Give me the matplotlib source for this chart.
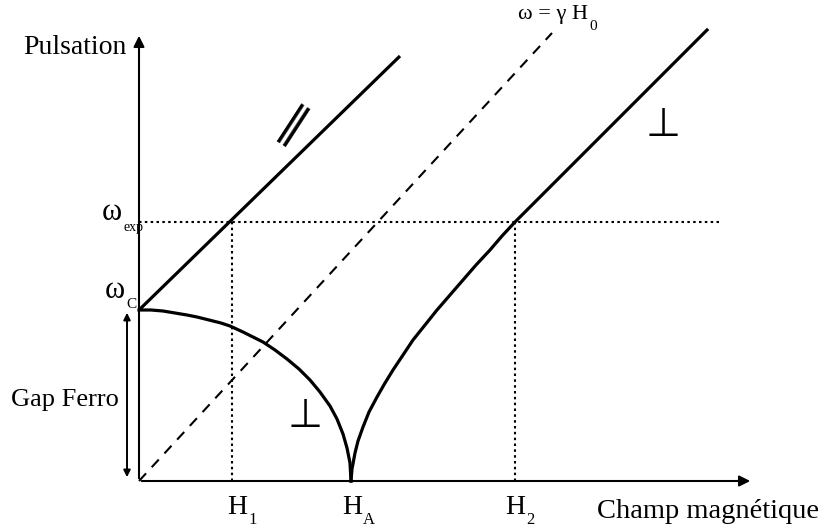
import matplotlib
matplotlib.use('Agg')
import matplotlib.pyplot as plt

plt.rcParams['font.family'] = ['Liberation Serif', 'DejaVu Serif']

# characteristic fields / pulsations (arbitrary units)
H1 = 93
HA = 212
H2 = 376
w_c = 171
w_exp = 259

# parallel branch (straight line starting at w_c)
par_H = [0, 261]
par_w = [171, 425]

# free precession line w = gamma H0
free_H = [0, 413]
free_w = [0, 448]

# perpendicular branch, below HA
low_H = [0, 12, 24, 36, 48, 58, 70, 82, 91, 104, 114, 124, 136, 148, 160, 171,
         181, 191, 198, 204, 208, 211, 212]
low_w = [171, 171, 170, 168, 166, 164, 161, 158, 155, 149, 144, 139, 131, 122, 112, 101,
         89, 75, 62, 47, 33, 18, 0]

# perpendicular branch, above HA
high_H = [212, 213, 216, 219, 224, 230, 238, 246, 254, 264, 274, 286, 298, 311, 324,
          337, 351, 363, 376, 568]
high_w = [0, 12, 28, 40, 54, 69, 84, 98, 111, 126, 141, 156, 171, 186, 201,
          216, 231, 245, 259, 451]

fig = plt.figure(figsize=(8.19, 5.30), dpi=100)
ax = fig.add_axes([0, 0, 1, 1])
ax.set_xlim(-139, 680)
ax.set_ylim(-49, 481)
ax.axis('off')

# axes with arrows
ax.annotate('', xy=(0, 448), xytext=(0, 0),
            arrowprops=dict(arrowstyle='-|>', lw=1.5, color='black', mutation_scale=16))
ax.annotate('', xy=(614, 0), xytext=(0, 0),
            arrowprops=dict(arrowstyle='-|>', lw=1.5, color='black', mutation_scale=16))

# gap arrow
ax.annotate('', xy=(-12, w_c), xytext=(-12, 1),
            arrowprops=dict(arrowstyle='<|-|>', lw=1.4, color='black', mutation_scale=10))

# curves
ax.plot(par_H, par_w, color='black', lw=2.3, solid_capstyle='butt')
ax.plot(low_H, low_w, color='black', lw=2.3)
ax.plot(high_H, high_w, color='black', lw=2.3)
ax.plot(free_H, free_w, color='black', lw=1.5, linestyle=(0, (5, 4)))

# dotted guides
dot = (0, (1.2, 1.6))
ax.plot([0, 581], [w_exp, w_exp], color='black', lw=1.5, linestyle=dot)
ax.plot([H1, H1], [0, w_exp], color='black', lw=1.5, linestyle=dot)
ax.plot([H2, H2], [0, w_exp], color='black', lw=1.5, linestyle=dot)


def sub_label(x, y, main, sub, fs=20, sfs=12, dy=-12):
    # main symbol ends at x, subscript starts just after it, lowered by dy
    ax.text(x, y, main, fontsize=fs, ha='right', va='center')
    ax.text(x + 1, y + dy, sub, fontsize=sfs, ha='left', va='center')


ax.text(-12, 434, 'Pulsation', fontsize=20, ha='right', va='center')
sub_label(-17, 268, 'ω', 'exp', fs=22, sfs=10, dy=-15)
sub_label(-14, 191, 'ω', 'C', fs=22, sfs=11, dy=-14)
ax.text(-74, 81, 'Gap Ferro', fontsize=19, ha='center', va='center')
sub_label(108, -27, 'H', '1')
sub_label(223, -27, 'H', 'A')
sub_label(386, -27, 'H', '2')
ax.text(458, -31, 'Champ magnétique', fontsize=20.5, ha='left', va='center')
ax.text(449, 466, 'ω = γ H', fontsize=16, ha='right', va='center')
ax.text(450, 454, '0', fontsize=11, ha='left', va='center')

# branch symbols
ax.text(153, 353, '∥', fontsize=33, family='DejaVu Sans', ha='center', va='center', rotation=-33)
ax.text(166, 65, '⊥', fontsize=29, family='DejaVu Sans', ha='center', va='center')
ax.text(524, 356, '⊥', fontsize=29, family='DejaVu Sans', ha='center', va='center')

fig.savefig('out.png', dpi=100)
